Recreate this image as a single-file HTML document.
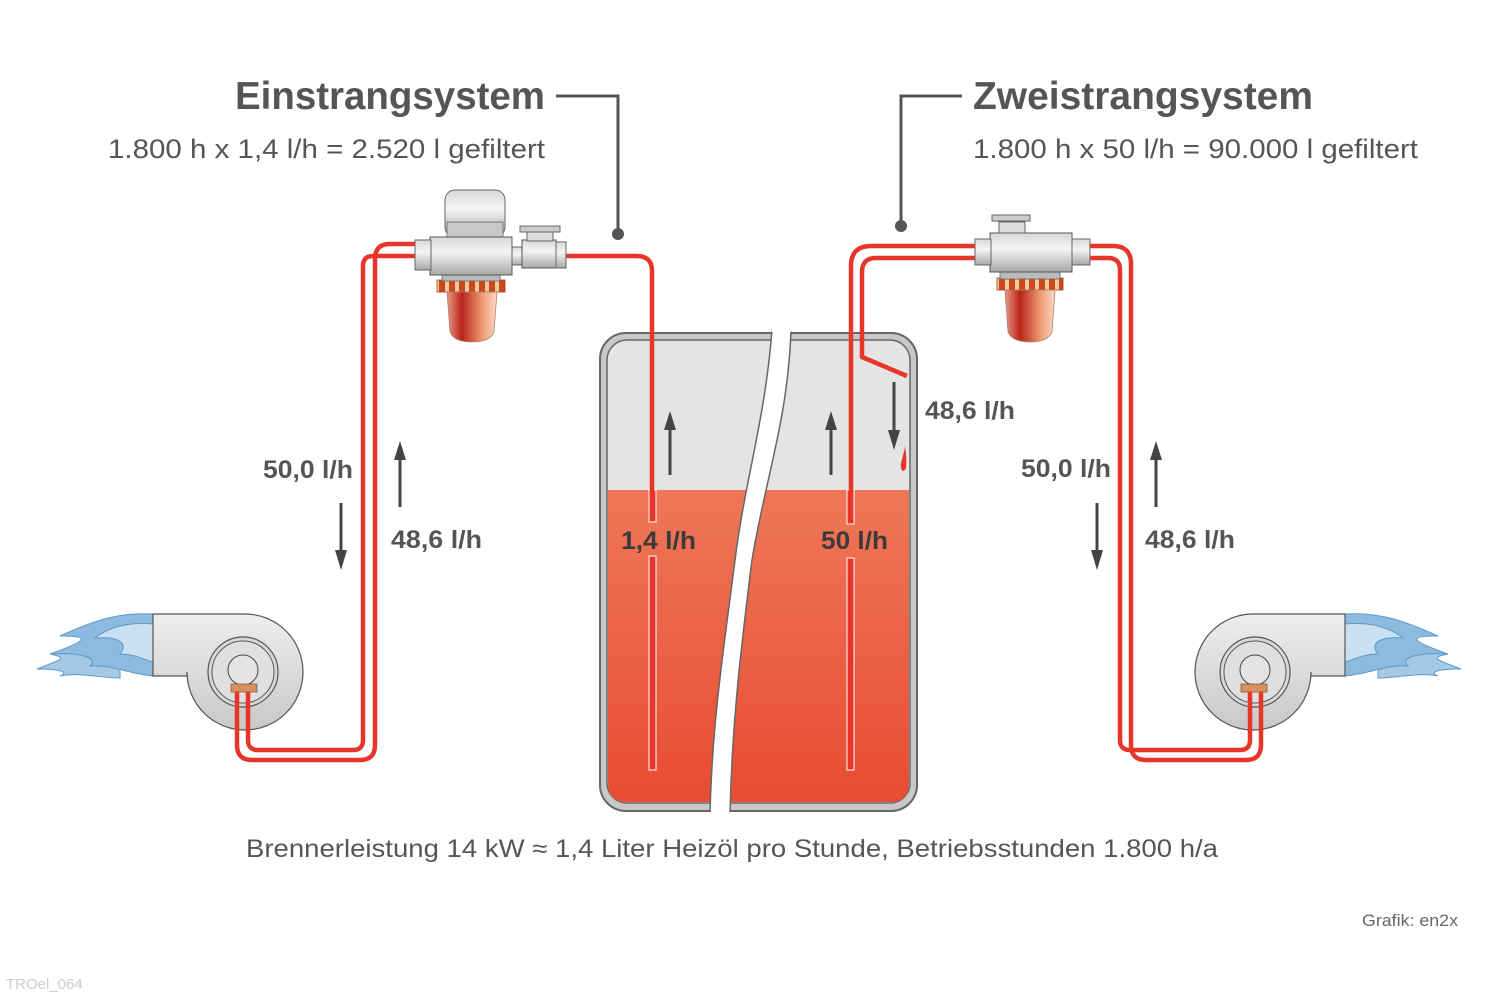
<!DOCTYPE html>
<html><head><meta charset="utf-8"><style>
html,body{margin:0;padding:0;background:#fff}
svg{display:block}
text{font-family:"Liberation Sans",Arial,sans-serif;fill:#555}
</style></head><body>
<svg width="1500" height="1000" viewBox="0 0 1500 1000" xmlns="http://www.w3.org/2000/svg">
<defs>
<linearGradient id="oil" x1="0" y1="0" x2="0" y2="1"><stop offset="0" stop-color="#ee7758"/><stop offset="1" stop-color="#e84c32"/></linearGradient>
<linearGradient id="metal" x1="0" y1="0" x2="0" y2="1"><stop offset="0" stop-color="#d8d8d8"/><stop offset="0.4" stop-color="#f4f4f4"/><stop offset="1" stop-color="#a8a8a8"/></linearGradient>
<linearGradient id="burn" x1="0" y1="0" x2="0" y2="1"><stop offset="0" stop-color="#eeeeee"/><stop offset="1" stop-color="#c8c8c8"/></linearGradient>
<linearGradient id="bowl" x1="0" y1="0" x2="1" y2="0"><stop offset="0" stop-color="#e89a88"/><stop offset="0.3" stop-color="#b82418"/><stop offset="0.7" stop-color="#ee9a70"/><stop offset="1" stop-color="#fbd8c8"/></linearGradient>
<pattern id="ring" width="10" height="12" patternUnits="userSpaceOnUse"><rect width="10" height="12" fill="#c84a1a"/><rect x="5" width="4" height="12" fill="#f6c8a0"/></pattern>
<g id="burner">
  <path d="M120,52 C95,40 70,36 50,40 C70,44 60,46 37,55 C60,55 70,58 60,62 C80,58 100,64 120,64 Z" fill="#a5c8e4" stroke="#5a9ac8" stroke-width="1"/>
  <path d="M153,0 C120,-2 95,6 60,22 C85,22 95,24 50,40 C80,38 100,44 90,52 C110,50 130,60 153,62 Z" fill="#8fbadf" stroke="#5a9ac8" stroke-width="1"/>
  <path d="M153,10 C130,8 110,12 95,24 C115,22 130,28 120,40 C135,40 145,46 153,48 Z" fill="#c8e0f2" stroke="#5a9ac8" stroke-width="1"/>
  <path d="M153,0 H245 A58,58 0 1 1 187,58 V62 H153 Z" fill="url(#burn)" stroke="#555" stroke-width="1.2"/>
  <circle cx="243" cy="58" r="35" fill="#d8d8d8" stroke="#555" stroke-width="1.2"/>
  <circle cx="243" cy="58" r="31" fill="#e0e0e0" stroke="#555" stroke-width="1"/>
  <circle cx="243" cy="56" r="15" fill="#e4e4e4" stroke="#444" stroke-width="1"/>
  <rect x="231" y="70" width="26" height="8" fill="#d89060" stroke="#8a5a30" stroke-width="0.8"/>
</g>
<g id="filter">
  <rect x="445" y="190" width="60" height="47" rx="10" fill="url(#metal)" stroke="#666"/>
  <rect x="447" y="222" width="56" height="15" fill="#c8c8c8" stroke="#666" stroke-width="0.8"/>
  <rect x="437" y="280" width="68" height="12" fill="url(#ring)" stroke="#a04018" stroke-width="0.8"/>
  <path d="M447,292 H497 L494,332 Q490,342 472,342 Q454,342 450,332 Z" fill="url(#bowl)" stroke="#b08070" stroke-width="0.8"/>
  <rect x="442" y="274" width="58" height="7" fill="#bbb" stroke="#666" stroke-width="0.8"/>
  <rect x="430" y="237" width="82" height="38" fill="url(#metal)" stroke="#555"/>
  <rect x="415" y="240" width="16" height="30" fill="url(#metal)" stroke="#666"/>
</g>
</defs>

<text x="235" y="109" font-size="39" font-weight="bold" textLength="310" lengthAdjust="spacingAndGlyphs">Einstrangsystem</text>
<text x="108" y="158" font-size="27" textLength="437" lengthAdjust="spacingAndGlyphs">1.800 h x 1,4 l/h = 2.520 l gefiltert</text>
<text x="973" y="109" font-size="39" font-weight="bold" textLength="340" lengthAdjust="spacingAndGlyphs">Zweistrangsystem</text>
<text x="973" y="158" font-size="27" textLength="445" lengthAdjust="spacingAndGlyphs">1.800 h x 50 l/h = 90.000 l gefiltert</text>

<path d="M556,96 H618 V234" fill="none" stroke="#555" stroke-width="3"/>
<circle cx="618" cy="234" r="6" fill="#555"/>
<path d="M962,96 H901 V226" fill="none" stroke="#555" stroke-width="3"/>
<circle cx="901" cy="226" r="6" fill="#555"/>

<!-- tank -->
<rect x="600" y="333" width="317" height="478" rx="26" fill="#c8c8c8" stroke="#666" stroke-width="2"/>
<rect x="607" y="340" width="303" height="463" rx="20" fill="#e4e4e4" stroke="#666" stroke-width="1.5"/>
<path d="M608,490 H909 V783 Q909,802 890,802 H627 Q608,802 608,783 Z" fill="url(#oil)"/>
<path d="M772,330 C765,420 745,480 735,560 C725,640 712,720 710,815 L730,815 C732,720 742,640 752,560 C765,480 788,420 791,330 Z" fill="#fff" stroke="#666" stroke-width="1.5"/>
<path d="M770,328 L793,328 L791,332 L772,332Z M706,812 H734 V818 H706Z" fill="#fff"/>

<!-- pipes in tank -->
<rect x="649" y="490" width="7" height="32" fill="#e8352a" stroke="#fff" stroke-width="1"/>
<rect x="649" y="556" width="7" height="214" fill="#e8352a" stroke="#fff" stroke-width="1"/>
<rect x="847" y="490" width="7" height="34" fill="#e8352a" stroke="#fff" stroke-width="1"/>
<rect x="847" y="558" width="7" height="212" fill="#e8352a" stroke="#fff" stroke-width="1"/>

<!-- burners -->
<use href="#burner" transform="translate(0,614)"/>
<use href="#burner" transform="translate(1498,614) scale(-1,1)"/>

<g fill="none" stroke="#e8352a" stroke-width="4.5" stroke-linejoin="round">
  <path d="M237,692 V745 Q237,760 252,760 H360 Q375,760 375,745 V259 Q375,244 390,244 H420"/>
  <path d="M248,692 V740 Q248,750 258,750 H353 Q363,750 363,740 V266 Q363,256 373,256 H420"/>
  <path d="M560,256 H637 Q652,256 652,271 V492"/>
  <path d="M851,492 V266 Q851,246 871,246 H980"/>
  <path d="M907,376 L862,357 V272 Q862,258 876,258 H980"/>
  <path d="M1085,246 H1113 Q1131,246 1131,264 V745 Q1131,760 1146,760 H1246 Q1261,760 1261,745 V692"/>
  <path d="M1085,258 H1108 Q1120,258 1120,270 V740 Q1120,750 1130,750 H1240 Q1250,750 1250,740 V692"/>
</g>

<!-- left filter -->
<use href="#filter"/>
<rect x="512" y="247" width="12" height="18" fill="url(#metal)" stroke="#666"/>
<rect x="522" y="240" width="34" height="28" fill="url(#metal)" stroke="#555"/>
<rect x="527" y="232" width="26" height="9" fill="#ddd" stroke="#666"/>
<rect x="520" y="226" width="40" height="6" fill="#ccc" stroke="#666"/>
<rect x="556" y="242" width="10" height="26" fill="url(#metal)" stroke="#666"/>

<!-- right filter -->
<rect x="997" y="278" width="66" height="12" fill="url(#ring)" stroke="#a04018" stroke-width="0.8"/>
<path d="M1005,290 H1055 L1052,332 Q1048,342 1030,342 Q1012,342 1008,332 Z" fill="url(#bowl)" stroke="#b08070" stroke-width="0.8"/>
<rect x="1000" y="272" width="60" height="7" fill="#bbb" stroke="#666" stroke-width="0.8"/>
<rect x="990" y="233" width="82" height="39" fill="url(#metal)" stroke="#555"/>
<rect x="975" y="239" width="16" height="26" fill="url(#metal)" stroke="#666"/>
<rect x="1072" y="239" width="18" height="26" fill="url(#metal)" stroke="#666"/>
<rect x="999" y="222" width="26" height="11" fill="#ddd" stroke="#666"/>
<rect x="992" y="215" width="38" height="6" fill="#ccc" stroke="#666"/>

<!-- arrows -->
<g fill="#444" stroke="#444" stroke-width="3">
  <line x1="400" y1="507" x2="400" y2="458"/><path d="M394,460 L400,441 L406,460Z" stroke="none"/>
  <line x1="341" y1="503" x2="341" y2="552"/><path d="M335,550 L341,570 L347,550Z" stroke="none"/>
  <line x1="670" y1="475" x2="670" y2="428"/><path d="M664,430 L670,411 L676,430Z" stroke="none"/>
  <line x1="831" y1="475" x2="831" y2="428"/><path d="M825,430 L831,411 L837,430Z" stroke="none"/>
  <line x1="894" y1="382" x2="894" y2="432"/><path d="M888,430 L894,450 L900,430Z" stroke="none"/>
  <line x1="1156" y1="507" x2="1156" y2="458"/><path d="M1150,460 L1156,441 L1162,460Z" stroke="none"/>
  <line x1="1097" y1="503" x2="1097" y2="552"/><path d="M1091,550 L1097,570 L1103,550Z" stroke="none"/>
</g>
<path d="M905,446 C904,455 900,462 901,468 Q903,474 906,468 Q907,458 905,446Z" fill="#e8352a"/>

<g font-size="25" font-weight="bold">
<text x="263" y="478" textLength="90" lengthAdjust="spacingAndGlyphs">50,0 l/h</text>
<text x="391" y="548" textLength="91" lengthAdjust="spacingAndGlyphs">48,6 l/h</text>
<text x="621" y="549" textLength="75" lengthAdjust="spacingAndGlyphs" style="fill:#3a3a3a">1,4 l/h</text>
<text x="821" y="549" textLength="67" lengthAdjust="spacingAndGlyphs" style="fill:#3a3a3a">50 l/h</text>
<text x="925" y="419" textLength="90" lengthAdjust="spacingAndGlyphs">48,6 l/h</text>
<text x="1021" y="477" textLength="90" lengthAdjust="spacingAndGlyphs">50,0 l/h</text>
<text x="1145" y="548" textLength="90" lengthAdjust="spacingAndGlyphs">48,6 l/h</text>
</g>
<text x="246" y="857" font-size="25" textLength="972" lengthAdjust="spacingAndGlyphs">Brennerleistung 14 kW ≈ 1,4 Liter Heizöl pro Stunde, Betriebsstunden 1.800 h/a</text>
<text x="1362" y="926" font-size="17" textLength="96" lengthAdjust="spacingAndGlyphs" style="fill:#666">Grafik: en2x</text>
<text x="6" y="989" font-size="15" style="fill:#ccc">TROel_064</text>
</svg>
</body></html>
